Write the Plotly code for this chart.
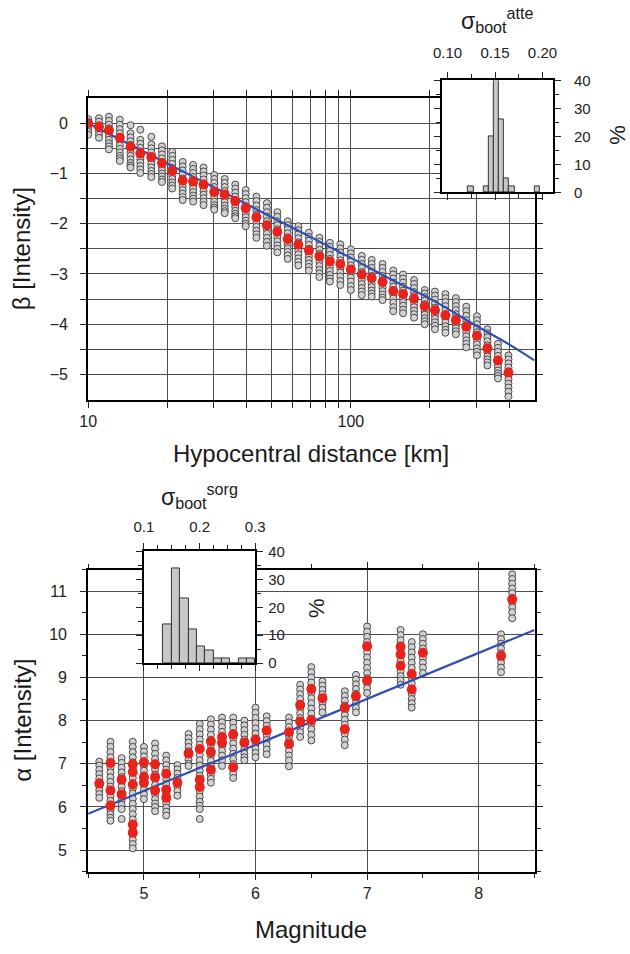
import plotly.graph_objects as go

W, H = 630, 954
FONT = "Liberation Sans, Arial, Helvetica, sans-serif"

# ---------------- top panel: attenuation (beta vs hypocentral distance) ----------------
atte_dist = [10.0, 11.0, 12.0, 13.2, 14.5, 15.8, 17.4, 19.1, 20.9, 22.9, 25.1, 27.5, 30.2, 33.1,
             36.3, 39.8, 43.7, 47.9, 52.5, 57.5, 63.1, 69.2, 75.9, 83.2, 91.2, 100, 110, 120,
             132, 145, 158, 174, 191, 209, 229, 251, 275, 302, 331, 363, 398]
atte_beta = [0.00, -0.07, -0.14, -0.29, -0.47, -0.60, -0.67, -0.79, -0.95, -1.14, -1.16, -1.22,
             -1.37, -1.42, -1.55, -1.69, -1.87, -2.03, -2.16, -2.31, -2.42, -2.53, -2.65, -2.75,
             -2.80, -2.91, -3.01, -3.08, -3.16, -3.34, -3.40, -3.49, -3.64, -3.72, -3.82, -3.92,
             -4.05, -4.23, -4.48, -4.72, -4.96]
atte_boot = [
    [0.08, 0.02, -0.05, -0.11, -0.17, -0.23],
    [0.10, 0.03, -0.04, -0.10, -0.16, -0.23, -0.29],
    [0.13, 0.05, -0.03, -0.10, -0.18, -0.26, -0.33, -0.40, -0.46, -0.52],
    [0.07, -0.03, -0.12, -0.20, -0.28, -0.36, -0.44, -0.51, -0.58, -0.65, -0.70, -0.75],
    [-0.04, -0.20, -0.28, -0.36, -0.43, -0.51, -0.58, -0.65, -0.72, -0.79, -0.84, -0.88],
    [-0.13, -0.33, -0.41, -0.49, -0.56, -0.64, -0.71, -0.78, -0.85, -0.92, -0.99],
    [-0.27, -0.42, -0.50, -0.58, -0.66, -0.74, -0.81, -0.88, -0.95, -1.01, -1.07],
    [-0.46, -0.54, -0.62, -0.70, -0.78, -0.86, -0.93, -1.00, -1.06, -1.12, -1.17],
    [-0.57, -0.65, -0.73, -0.81, -0.89, -0.97, -1.04, -1.11, -1.18, -1.24, -1.30],
    [-0.77, -0.86, -0.94, -1.02, -1.10, -1.18, -1.26, -1.33, -1.40, -1.47, -1.53],
    [-0.83, -0.91, -0.99, -1.07, -1.15, -1.23, -1.30, -1.37, -1.44, -1.50, -1.56],
    [-0.88, -0.96, -1.04, -1.12, -1.20, -1.28, -1.35, -1.42, -1.49, -1.56, -1.63],
    [-1.03, -1.11, -1.19, -1.27, -1.35, -1.42, -1.49, -1.56, -1.63, -1.68, -1.72],
    [-1.11, -1.19, -1.27, -1.35, -1.43, -1.50, -1.57, -1.64, -1.70, -1.75, -1.79],
    [-1.22, -1.30, -1.38, -1.46, -1.53, -1.60, -1.67, -1.74, -1.80, -1.85, -1.89],
    [-1.33, -1.41, -1.49, -1.57, -1.65, -1.73, -1.80, -1.87, -1.94, -2.00, -2.05],
    [-1.46, -1.55, -1.64, -1.73, -1.82, -1.90, -1.98, -2.06, -2.14, -2.21, -2.28],
    [-1.59, -1.68, -1.77, -1.86, -1.95, -2.04, -2.12, -2.20, -2.28, -2.36, -2.44],
    [-1.77, -1.86, -1.95, -2.03, -2.11, -2.19, -2.27, -2.35, -2.43, -2.50, -2.57],
    [-1.95, -2.03, -2.11, -2.19, -2.27, -2.35, -2.42, -2.49, -2.56, -2.63, -2.70],
    [-2.05, -2.13, -2.21, -2.29, -2.37, -2.45, -2.53, -2.61, -2.69, -2.76, -2.83],
    [-2.18, -2.26, -2.34, -2.42, -2.50, -2.58, -2.65, -2.72, -2.79, -2.86, -2.93],
    [-2.28, -2.36, -2.44, -2.52, -2.60, -2.68, -2.76, -2.84, -2.92, -2.99, -3.06],
    [-2.38, -2.46, -2.54, -2.62, -2.70, -2.78, -2.86, -2.94, -3.02, -3.09, -3.15],
    [-2.41, -2.49, -2.57, -2.65, -2.73, -2.81, -2.89, -2.97, -3.05, -3.14, -3.22],
    [-2.51, -2.59, -2.67, -2.75, -2.83, -2.91, -2.99, -3.07, -3.15, -3.24, -3.32],
    [-2.64, -2.72, -2.80, -2.88, -2.96, -3.04, -3.12, -3.20, -3.28, -3.35, -3.42],
    [-2.72, -2.80, -2.88, -2.96, -3.04, -3.12, -3.19, -3.26, -3.33, -3.39, -3.45],
    [-2.80, -2.88, -2.96, -3.04, -3.12, -3.20, -3.27, -3.34, -3.41, -3.47, -3.52],
    [-2.93, -3.01, -3.09, -3.17, -3.25, -3.33, -3.41, -3.49, -3.57, -3.66, -3.74],
    [-3.01, -3.09, -3.17, -3.25, -3.33, -3.41, -3.49, -3.56, -3.63, -3.71, -3.78],
    [-3.12, -3.20, -3.28, -3.36, -3.44, -3.52, -3.59, -3.66, -3.73, -3.80, -3.87],
    [-3.32, -3.39, -3.46, -3.53, -3.60, -3.67, -3.74, -3.81, -3.88, -3.94, -4.00],
    [-3.35, -3.43, -3.51, -3.59, -3.67, -3.75, -3.82, -3.89, -3.96, -4.03, -4.10],
    [-3.40, -3.48, -3.56, -3.64, -3.72, -3.80, -3.88, -3.96, -4.04, -4.11, -4.17],
    [-3.48, -3.56, -3.64, -3.72, -3.80, -3.88, -3.95, -4.02, -4.08, -4.14, -4.20],
    [-3.65, -3.74, -3.83, -3.92, -4.00, -4.08, -4.16, -4.24, -4.32, -4.39, -4.46],
    [-3.84, -3.92, -4.00, -4.08, -4.16, -4.24, -4.32, -4.40, -4.48, -4.55, -4.62],
    [-4.10, -4.18, -4.26, -4.34, -4.42, -4.50, -4.57, -4.64, -4.70, -4.76, -4.82],
    [-4.39, -4.47, -4.55, -4.63, -4.71, -4.78, -4.85, -4.92, -4.98, -5.03, -5.08],
    [-4.62, -4.70, -4.78, -4.86, -4.94, -5.02, -5.10, -5.18, -5.26, -5.34, -5.44],
]
atte_line_dist = [10, 20, 30, 50, 70, 100, 150, 200, 300, 400, 500]
atte_line_beta = [0.00, -0.80, -1.27, -1.87, -2.26, -2.68, -3.17, -3.49, -4.03, -4.40, -4.72]

atte_x_ticks = [10, 100]
atte_x_labels = ["10", "100"]
atte_x_minor = [20, 30, 40, 50, 60, 70, 80, 90, 200, 300, 400]
atte_y_ticks = [-5, -4, -3, -2, -1, 0]
atte_y_labels = ["\u22125", "\u22124", "\u22123", "\u22122", "\u22121", "0"]
atte_y_minor = [-4.5, -3.5, -2.5, -1.5, -0.5]

# histogram of sigma_boot (atte)
atte_hist_center = [0.1246, 0.1408, 0.1462, 0.1516, 0.1570, 0.1624, 0.1678, 0.1948]
atte_hist_pct = [2, 2, 20, 40, 26, 5, 2, 2]
atte_hist_ticks = [0.10, 0.15, 0.20]
atte_hist_labels = ["0.10", "0.15", "0.20"]

# ---------------- bottom panel: source (alpha vs magnitude) ----------------
sorg_col_mag = [4.6, 4.7, 4.8, 4.9, 5.0, 5.1, 5.2, 5.3, 5.4, 5.5, 5.6, 5.7, 5.8, 5.9, 6.0, 6.1,
                6.3, 6.4, 6.5, 6.6, 6.8, 6.9, 7.0, 7.3, 7.4, 7.5, 8.2, 8.3]
sorg_boot = [
    [7.05, 6.96, 6.86, 6.76, 6.66, 6.57, 6.48, 6.39, 6.30, 6.21],
    [7.51, 7.39, 7.27, 7.15, 7.03, 6.91, 6.80, 6.69, 6.58, 6.47, 6.36, 6.25, 6.14, 6.03, 5.93, 5.83, 5.75, 5.68],
    [7.13, 7.02, 6.91, 6.80, 6.69, 6.58, 6.47, 6.36, 6.25, 6.15, 6.05, 5.95, 5.72],
    [7.51, 7.39, 7.27, 7.15, 7.03, 6.91, 6.79, 6.67, 6.55, 6.43, 6.31, 6.19, 6.07, 5.95, 5.83, 5.71,
     5.59, 5.47, 5.35, 5.24, 5.14, 5.04],
    [7.39, 7.28, 7.17, 7.06, 6.95, 6.84, 6.73, 6.62, 6.51, 6.40, 6.29, 6.18],
    [7.47, 7.35, 7.23, 7.11, 6.99, 6.87, 6.75, 6.63, 6.51, 6.40, 6.29, 6.18, 6.08, 6.00, 5.90],
    [7.19, 7.08, 6.97, 6.86, 6.75, 6.64, 6.53, 6.42, 6.31, 6.20, 6.09, 5.98, 5.89, 5.80],
    [6.97, 6.87, 6.77, 6.67, 6.57, 6.47, 6.37, 6.26],
    [7.69, 7.59, 7.49, 7.39, 7.29, 7.19, 7.09, 7.00, 6.95],
    [7.92, 7.80, 7.68, 7.56, 7.44, 7.32, 7.20, 7.08, 6.96, 6.84, 6.72, 6.60, 6.48, 6.36, 6.24, 6.12,
     6.03, 5.95, 5.72],
    [8.03, 7.91, 7.79, 7.67, 7.55, 7.43, 7.31, 7.19, 7.07, 6.95, 6.84, 6.74, 6.65, 6.56],
    [8.07, 7.96, 7.85, 7.74, 7.63, 7.52, 7.41, 7.30, 7.19, 7.08, 6.95],
    [8.07, 7.95, 7.83, 7.71, 7.59, 7.47, 7.35, 7.23, 7.11, 6.99, 6.88, 6.77, 6.67],
    [8.00, 7.89, 7.78, 7.67, 7.56, 7.45, 7.34, 7.23, 7.15, 7.08],
    [8.30, 8.18, 8.06, 7.94, 7.82, 7.70, 7.58, 7.46, 7.35, 7.25, 7.15],
    [8.10, 7.99, 7.88, 7.77, 7.66, 7.55, 7.44, 7.33, 7.22],
    [8.07, 7.96, 7.85, 7.74, 7.63, 7.52, 7.41, 7.30, 7.19, 7.08, 6.94],
    [8.83, 8.72, 8.61, 8.50, 8.39, 8.28, 8.17, 8.06, 7.95, 7.84, 7.73, 7.62],
    [9.24, 9.12, 9.00, 8.88, 8.76, 8.64, 8.52, 8.40, 8.28, 8.16, 8.04, 7.92, 7.80, 7.67, 7.54],
    [8.91, 8.81, 8.71, 8.61, 8.51, 8.41, 8.30, 8.19],
    [8.68, 8.57, 8.46, 8.35, 8.24, 8.13, 8.02, 7.91, 7.80, 7.69, 7.56, 7.43],
    [9.06, 8.95, 8.84, 8.73, 8.62, 8.51, 8.40, 8.29, 8.19],
    [10.18, 10.06, 9.94, 9.82, 9.70, 9.58, 9.46, 9.34, 9.22, 9.10, 8.98, 8.86, 8.75, 8.64],
    [10.10, 9.98, 9.86, 9.74, 9.62, 9.50, 9.38, 9.26, 9.14, 9.03, 8.93, 8.83],
    [9.82, 9.70, 9.58, 9.46, 9.34, 9.22, 9.10, 8.98, 8.86, 8.74, 8.62, 8.50, 8.40, 8.30],
    [10.00, 9.89, 9.78, 9.67, 9.56, 9.45, 9.34, 9.23, 9.10],
    [10.00, 9.89, 9.78, 9.67, 9.56, 9.45, 9.34, 9.23, 9.12],
    [11.39, 11.28, 11.17, 11.06, 10.95, 10.84, 10.73, 10.62, 10.51, 10.37],
]
event_mag = [4.6, 4.7, 4.7, 4.7, 4.8, 4.8, 4.9, 4.9, 4.9, 4.9, 4.9, 5.0, 5.0, 5.0,
             5.1, 5.1, 5.1, 5.2, 5.2, 5.2, 5.3, 5.4, 5.5, 5.5, 5.5, 5.6, 5.6, 5.6,
             5.7, 5.7, 5.8, 5.8, 5.9, 6.0, 6.1, 6.3, 6.3, 6.4, 6.4, 6.5, 6.5, 6.6,
             6.8, 6.8, 6.9, 7.0, 7.0, 7.3, 7.3, 7.3, 7.4, 7.4, 7.5, 8.2, 8.3]
event_alpha = [6.54, 7.02, 6.38, 6.03, 6.63, 6.29, 6.99, 6.81, 6.52, 5.59, 5.40, 7.03, 6.69, 6.56,
               6.99, 6.69, 6.38, 6.77, 6.40, 6.21, 6.56, 7.24, 7.34, 6.63, 6.46, 7.52, 7.27, 6.86,
               7.62, 7.49, 7.68, 6.92, 7.49, 7.56, 7.77, 7.73, 7.46, 8.36, 7.98, 8.73, 8.01, 8.52,
               8.30, 7.80, 8.57, 9.72, 8.93, 9.71, 9.53, 9.27, 9.08, 8.72, 9.57, 9.50, 10.81]
sorg_line_mag = [4.5, 8.5]
sorg_line_alpha = [5.84, 10.10]

sorg_x_ticks = [5, 6, 7, 8]
sorg_y_ticks = [5, 6, 7, 8, 9, 10, 11]

# histogram of sigma_boot (sorg)
sorg_hist_center = [0.1425, 0.1575, 0.1725, 0.1875, 0.2025, 0.2175, 0.2325, 0.2475, 0.2625, 0.2775, 0.2925]
sorg_hist_pct = [14, 34, 23, 12, 6, 4.5, 1.5, 1.5, 0, 1.5, 1.5]
sorg_hist_ticks = [0.1, 0.2, 0.3]
sorg_hist_labels = ["0.1", "0.2", "0.3"]
hist_pct_ticks = [0, 10, 20, 30, 40]

# ---------------- styles ----------------
GRAY_FILL = "#d2d2d2"
GRAY_EDGE = "#4a4a4a"
RED = "#e8231b"
BLUE = "#2f4fb4"
GRID = "#4d4d4d"
TICKC = "#222222"


def px_x(p):
    return p / W


def px_y(p):
    return 1 - p / H


fig = go.Figure()

# top panel traces
gx = [d for d, vals in zip(atte_dist, atte_boot) for _ in vals]
gy = [v for vals in atte_boot for v in vals]
fig.add_trace(go.Scatter(x=gx, y=gy, mode="markers", xaxis="x", yaxis="y",
                         marker=dict(size=7, color=GRAY_FILL, line=dict(color=GRAY_EDGE, width=1)),
                         showlegend=False, hoverinfo="skip"))
fig.add_trace(go.Scatter(x=atte_line_dist, y=atte_line_beta, mode="lines", xaxis="x", yaxis="y",
                         line=dict(color=BLUE, width=2.2, shape="spline"), showlegend=False))
fig.add_trace(go.Scatter(x=atte_dist, y=atte_beta, mode="markers", xaxis="x", yaxis="y",
                         marker=dict(size=10, color=RED), showlegend=False))

# bottom panel traces
sx = [m for m, vals in zip(sorg_col_mag, sorg_boot) for _ in vals]
sy = [v for vals in sorg_boot for v in vals]
fig.add_trace(go.Scatter(x=sx, y=sy, mode="markers", xaxis="x2", yaxis="y2",
                         marker=dict(size=7, color=GRAY_FILL, line=dict(color=GRAY_EDGE, width=1)),
                         showlegend=False, hoverinfo="skip"))
fig.add_trace(go.Scatter(x=sorg_line_mag, y=sorg_line_alpha, mode="lines", xaxis="x2", yaxis="y2",
                         line=dict(color=BLUE, width=2.2), showlegend=False))
fig.add_trace(go.Scatter(x=event_mag, y=event_alpha, mode="markers", xaxis="x2", yaxis="y2",
                         marker=dict(size=10, color=RED), showlegend=False))

# insets
fig.add_trace(go.Bar(x=atte_hist_center, y=atte_hist_pct, width=0.0054, xaxis="x3", yaxis="y3",
                     marker=dict(color="#c8c8c8", line=dict(color="#333333", width=1)),
                     showlegend=False))
fig.add_trace(go.Bar(x=sorg_hist_center, y=sorg_hist_pct, width=0.015, xaxis="x4", yaxis="y4",
                     marker=dict(color="#c8c8c8", line=dict(color="#333333", width=1)),
                     showlegend=False))

main_dom_x = [px_x(80.7), px_x(541.7)]
axis_common = dict(showline=True, linecolor="black", linewidth=2, mirror="ticks",
                   ticks="outside", ticklen=6, tickwidth=1, tickcolor=TICKC,
                   zeroline=False, tickfont=dict(size=16, color=TICKC, family=FONT))
inset_common = dict(showline=True, linecolor="black", linewidth=2, mirror="ticks",
                    ticks="outside", ticklen=6, tickwidth=1, tickcolor=TICKC,
                    zeroline=False, showgrid=False,
                    tickfont=dict(size=15, color=TICKC, family=FONT))
grid_minor = dict(ticks="outside", ticklen=6, tickcolor=TICKC, showgrid=True,
                  gridcolor=GRID, gridwidth=1)

fig.update_layout(
    width=W, height=H, autosize=False,
    margin=dict(l=0, r=0, t=0, b=0),
    paper_bgcolor="white", plot_bgcolor="white",
    font=dict(family=FONT, color=TICKC),
    bargap=0,
    xaxis=dict(domain=main_dom_x, anchor="y", type="log", range=[1, 2.699],
               tickmode="array", tickvals=atte_x_ticks, ticktext=atte_x_labels,
               minor=dict(tickmode="array", tickvals=atte_x_minor, **grid_minor),
               showgrid=True, gridcolor=GRID, gridwidth=1, **axis_common),
    yaxis=dict(domain=[px_y(397.7), px_y(90.7)], anchor="x", range=[-5.5, 0.5],
               tickmode="array", tickvals=atte_y_ticks, ticktext=atte_y_labels,
               minor=dict(tickmode="array", tickvals=atte_y_minor, **grid_minor),
               ticklabelstandoff=9,
               showgrid=True, gridcolor=GRID, gridwidth=1, **axis_common),
    xaxis2=dict(domain=main_dom_x, anchor="y2", range=[4.5, 8.5],
                tickmode="array", tickvals=sorg_x_ticks,
                minor=dict(dtick=0.5, tick0=4.5, ticks="outside", ticklen=4, tickcolor=TICKC,
                           showgrid=False),
                showgrid=True, gridcolor=GRID, gridwidth=1, **axis_common),
    yaxis2=dict(domain=[px_y(878.3), px_y(570.7)], anchor="x2", range=[4.5, 11.5],
                tickmode="array", tickvals=sorg_y_ticks,
                minor=dict(dtick=0.5, tick0=4.5, ticks="outside", ticklen=4, tickcolor=TICKC,
                           showgrid=False),
                ticklabelstandoff=10,
                showgrid=True, gridcolor=GRID, gridwidth=1, **axis_common),
    xaxis3=dict(domain=[px_x(446), px_x(560.7)], anchor="y3", side="top", range=[0.094, 0.211],
                tickmode="array", tickvals=atte_hist_ticks, ticktext=atte_hist_labels,
                minor=dict(dtick=0.025, tick0=0.1, ticks="outside", ticklen=4, tickcolor=TICKC),
                ticklabelstandoff=8, **inset_common),
    yaxis3=dict(domain=[px_y(186.7), px_y(72.7)], anchor="x3", side="right", range=[0, 40],
                tickmode="array", tickvals=hist_pct_ticks,
                minor=dict(dtick=5, tick0=0, ticks="outside", ticklen=4, tickcolor=TICKC),
                ticklabelstandoff=10, **inset_common),
    xaxis4=dict(domain=[px_x(138.3), px_x(253.3)], anchor="y4", side="top", range=[0.1, 0.3],
                tickmode="array", tickvals=sorg_hist_ticks, ticktext=sorg_hist_labels,
                minor=dict(dtick=0.025, tick0=0.1, ticks="outside", ticklen=4, tickcolor=TICKC),
                ticklabelstandoff=5, **inset_common),
    yaxis4=dict(domain=[px_y(666), px_y(552.3)], anchor="x4", side="right", range=[0, 40],
                tickmode="array", tickvals=hist_pct_ticks,
                minor=dict(dtick=5, tick0=0, ticks="outside", ticklen=4, tickcolor=TICKC),
                ticklabelstandoff=2, **inset_common),
)


def label(text, x, y, size, angle=0):
    fig.add_annotation(text=text, x=px_x(x), y=px_y(y), xref="paper", yref="paper",
                       showarrow=False, textangle=angle, xanchor="center", yanchor="middle",
                       font=dict(size=size, family=FONT, color="#1a1a1a"))


label("\u03b2 [Intensity]", 12, 244, 24, -90)
label("Hypocentral distance [km]", 311, 453, 24)
label("\u03b1 [Intensity]", 12, 724, 24, -90)
label("Magnitude", 311, 937, 24)
label("\u03c3<sub>boot</sub><sup>atte</sup>", 503, 11, 23)
label("%", 628, 128, 22, -90)
label("\u03c3<sub>boot</sub><sup>sorg</sup>", 196, 496, 23)
label("%", 316, 610, 22, -90)

fig.write_html("out.html")
